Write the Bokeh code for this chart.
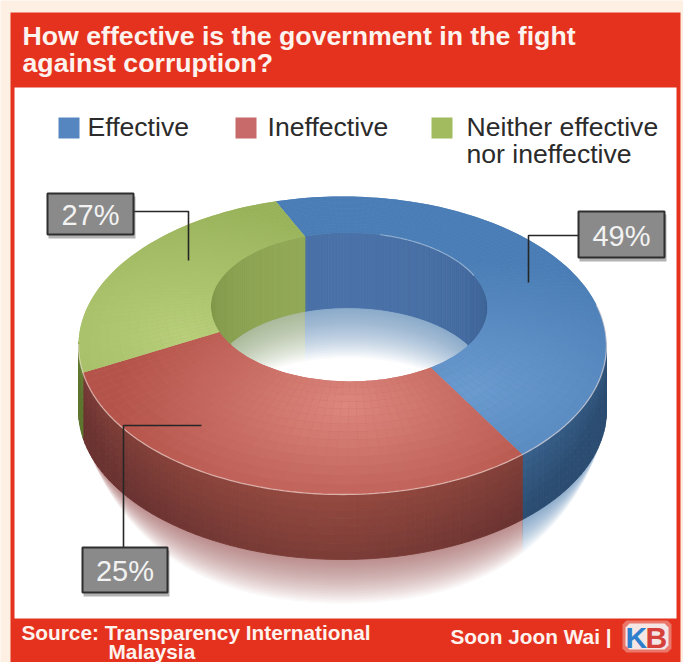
import numpy as np
from bokeh.plotting import figure
from bokeh.models import ColumnDataSource, Range1d
from bokeh.core.properties import value
from bokeh.embed import file_html
from bokeh.resources import INLINE

# Survey results
categories = ["Effective", "Ineffective", "Neither effective\nnor ineffective"]
shares = [49, 25, 27]
title_lines = ["How effective is the government in the fight", "against corruption?"]
source_lines = ["Source: Transparency International", "Malaysia"]
credit = "Soon Joon Wai |"

# Ring projection: a circular plan seen in perspective, mapped on the outer ellipse
CX, CY, RX, RY = 342.0, 345.0, 264.0, 149.0
TILT = (0.035, -0.356)
HOLE = 0.55
DEPTH_OUT, DEPTH_IN = 65.0, 75.0
START = -23.5

FONT = value("Liberation Sans")
SWATCH = ["#5686c0", "#c8696a", "#a2bb5e"]
TOP_LIGHT = ["#6b9bcf", "#dd877e", "#b9cf7b"]
TOP_DARK = ["#4a7db5", "#b4534a", "#98b25a"]
GLOW = [(470, 390), (345, 405), (185, 335)]
WALL_LIGHT = ["#41709f", "#93493f", "#7a9440"]
WALL_DARK = ["#2c4d72", "#6b3331", "#5d7530"]
INNER_LIGHT = ["#4a72a8", "#8a4540", "#93aa58"]
INNER_DARK = ["#3d6396", "#8a4540", "#7f9649"]
REFLECT = ["#4a7cb8", "#9c4843", "#7a9440"]
FLOOR = ["#5a80b8", "#8a4540", "#93a96a"]


def project(theta, r=1.0):
    """Screen position of plan point at clockwise angle theta (degrees) and radius r."""
    t = np.radians(np.asarray(theta, dtype=float))
    a, b = r * np.sin(t), -r * np.cos(t)
    wx, wy = TILT
    w2 = wx * wx + wy * wy
    g = 1.0 / np.sqrt(1.0 - w2)
    dot = a * wx + b * wy
    den = g * (1.0 + dot)
    k = (g - 1.0) * dot / w2 + g
    return CX + RX * (a + k * wx) / den, CY + RY * (b + k * wy) / den


def hex_rgb(c):
    return np.array([int(c[i:i + 2], 16) for i in (1, 3, 5)], dtype=float)


def mix(c0, c1, f):
    f = float(np.clip(f, 0, 1))
    v = hex_rgb(c0) * (1 - f) + hex_rgb(c1) * f
    return "#%02x%02x%02x" % tuple(int(round(x)) for x in v)


total = sum(shares)
spans = [s / total * 360.0 for s in shares]
edges = START + np.concatenate([[0.0], np.cumsum(spans)])


class Cells:
    """Collects flat polygons that are drawn in one patches call."""

    def __init__(self):
        self.xs, self.ys, self.color, self.alpha = [], [], [], []

    def add(self, xs, ys, color, alpha=1.0):
        self.xs.append(list(map(float, xs)))
        self.ys.append(list(map(float, ys)))
        self.color.append(color)
        self.alpha.append(alpha)

    def draw(self, fig, seam=1.2):
        src = ColumnDataSource(dict(xs=self.xs, ys=self.ys, c=self.color, a=self.alpha))
        if seam:
            fig.patches("xs", "ys", source=src, fill_color="c", fill_alpha="a",
                        line_color="c", line_width=seam, line_alpha="a")
        else:
            fig.patches("xs", "ys", source=src, fill_color="c", fill_alpha="a", line_alpha=0)


p = figure(width=683, height=662, output_backend="svg", toolbar_location=None,
           x_range=Range1d(0, 683), y_range=Range1d(662, 0), min_border=0,
           x_axis_type=None, y_axis_type=None, outline_line_color=None,
           background_fill_color="#fdf0e3", border_fill_color="#fdf0e3")
p.grid.visible = False

# Frame: red card, white panel
p.quad(left=[10], right=[680], top=[12], bottom=[662], fill_color="#e5321e", line_color=None)
p.quad(left=[14], right=[676], top=[87], bottom=[618], fill_color="#ffffff", line_color=None)

for i, line in enumerate(title_lines):
    p.text([22], [35 + 27 * i], text=[line], text_font=FONT, text_font_style="bold",
           text_font_size="26.7px", text_color="#fdf3ee", text_baseline="middle")

# Legend
for x, col in zip([58, 235, 431], SWATCH):
    p.quad(left=[x], right=[x + 21], top=[117], bottom=[138], fill_color=col, line_color=None)
for x, name in zip([87, 267, 466], categories):
    for j, part in enumerate(name.split("\n")):
        p.text([x], [126 + 27 * j], text=[part], text_font=FONT, text_font_size="26.6px",
               text_color="#2b2b2b", text_baseline="middle")

# Soft reflection on the surface below the outer wall, thinning towards the sides
reflect = Cells()
for i in range(3):
    th = np.linspace(edges[i], edges[i + 1], 120)
    x, y = project(th)
    keep = y >= CY - 2
    x, y = x[keep], y[keep]
    if len(x) < 2:
        continue
    taper = np.clip(1 - ((x - 345) / 255) ** 4, 0, 1)
    for t in np.arange(2, 46, 2):
        reflect.add(np.r_[x, x[::-1]], np.r_[y + DEPTH_OUT - 3, (y + DEPTH_OUT + t * taper)[::-1]],
                    REFLECT[i], 0.04)
reflect.draw(p, seam=0)

# Outer wall
wall = Cells()
for i in range(3):
    th = np.arange(edges[i], edges[i + 1] + 1.5, 1.5)
    th[-1] = min(th[-1], edges[i + 1])
    x, y = project(th)
    for j in range(len(th) - 1):
        if y[j] < CY - 3 and y[j + 1] < CY - 3:
            continue
        side = abs((x[j] - 330) / RX)
        for h in range(8):
            z0, z1 = DEPTH_OUT * h / 8, DEPTH_OUT * (h + 1) / 8
            shade = 0.75 * side ** 1.5 + 0.55 * h / 7
            wall.add([x[j], x[j + 1], x[j + 1], x[j]],
                     [y[j] + z0, y[j + 1] + z0, y[j + 1] + z1, y[j] + z1],
                     mix(WALL_LIGHT[i], WALL_DARK[i], shade))
wall.draw(p, seam=0.9)

# Far side of the hole: inner wall, then the colour it throws on the floor
inner = Cells()
floor = Cells()
for i in range(3):
    th = np.arange(edges[i], edges[i + 1] + 1.5, 1.5)
    th[-1] = min(th[-1], edges[i + 1])
    x, y = project(th, HOLE)
    keep = y < 346
    x, y = x[keep], y[keep]
    if len(x) < 2:
        continue
    for j in range(len(x) - 1):
        inner.add([x[j], x[j + 1], x[j + 1], x[j]],
                  [y[j], y[j + 1], y[j + 1] + DEPTH_IN, y[j] + DEPTH_IN],
                  mix(INNER_LIGHT[i], INNER_DARK[i], (y[j] - 232) / 70))
    for t in np.arange(2, 52, 2):
        floor.add(np.r_[x, x[::-1]], np.r_[y + DEPTH_IN - 1, (y + DEPTH_IN + t)[::-1]],
                  FLOOR[i], 0.042)
floor.draw(p, seam=0)
inner.draw(p, seam=0.9)

# Top face of the ring, shaded around a highlight in each slice.
# A flat sector goes underneath so that no cell edge lets the wall show through.
face = Cells()
under = Cells()
radii = np.linspace(HOLE, 1.0, 15)
for i in range(3):
    th = np.arange(edges[i], edges[i + 1] + 2.0, 2.0)
    th[-1] = min(th[-1], edges[i + 1])
    ox, oy = project(th)
    ix, iy = project(th, HOLE)
    under.add(np.r_[ox, ix[::-1]], np.r_[oy, iy[::-1]], mix(TOP_LIGHT[i], TOP_DARK[i], 0.5))
    for j in range(len(th) - 1):
        for k in range(len(radii) - 1):
            x0, y0 = project(th[j], radii[k])
            x1, y1 = project(th[j + 1], radii[k])
            x2, y2 = project(th[j + 1], radii[k + 1])
            x3, y3 = project(th[j], radii[k + 1])
            mx, my = (x0 + x2) / 2, (y0 + y2) / 2
            d = np.hypot((mx - GLOW[i][0]) / 230, (my - GLOW[i][1]) / 130)
            face.add([x0, x1, x2, x3], [y0, y1, y2, y3],
                     mix(TOP_LIGHT[i], TOP_DARK[i], d))
under.draw(p, seam=0)
face.draw(p, seam=0)

# Pale highlights on the rims
th = np.linspace(95, 250, 160)
x, y = project(th)
p.line(x, y, line_color="#f6e4e0", line_alpha=0.6, line_width=1.3)
th = np.linspace(15, 75, 60)
x, y = project(th, HOLE)
p.line(x, y, line_color="#dfe8f3", line_alpha=0.45, line_width=1.2)

# Value callouts
boxes = [(578, 211, 86, 46), (82, 547, 85, 45), (47, 193, 86, 41)]
leaders = [([578, 528, 528], [235, 235, 282]),
           ([123, 123, 201], [547, 425, 425]),
           ([133, 188, 188], [211, 211, 260])]
for (bx, by, bw, bh), (lx, ly), share in zip(boxes, leaders, shares):
    p.line(lx, ly, line_color="#262626", line_width=1.6)
    p.quad(left=[bx + 1], right=[bx + bw + 2], top=[by + 3], bottom=[by + bh + 4],
           fill_color="#555555", fill_alpha=0.45, line_color=None)
    p.quad(left=[bx], right=[bx + bw], top=[by], bottom=[by + bh],
           fill_color="#8a8a8a", line_color="#2e2e2e", line_width=2)
    p.text([bx + bw / 2], [by + bh / 2 + 1], text=[f"{share}%"], text_font=FONT,
           text_font_size="29px", text_color="#f2f2f2", text_align="center",
           text_baseline="middle")

# Footer
p.text([21], [632], text=[source_lines[0]], text_font=FONT, text_font_style="bold",
       text_font_size="20.8px", text_color="#fdf3ee", text_baseline="middle")
p.text([108], [651], text=[source_lines[1]], text_font=FONT, text_font_style="bold",
       text_font_size="20.8px", text_color="#fdf3ee", text_baseline="middle")
p.text([450], [636], text=[credit], text_font=FONT, text_font_style="bold",
       text_font_size="20.8px", text_color="#fdf3ee", text_baseline="middle")

# Publisher mark: white halo behind the two letters
for grow, alpha in [(3, 0.35), (0, 0.85)]:
    lx0, lx1, ly0, ly1 = 625 - grow, 668 + grow, 623 - grow, 649 + grow
    p.patches([[lx0 + 4, lx1 - 4, lx1, lx1, lx1 - 4, lx0 + 4, lx0, lx0]],
              [[ly0, ly0, ly0 + 4, ly1 - 4, ly1, ly1, ly1 - 4, ly0 + 4]],
              fill_color="#f7f9fb", fill_alpha=alpha, line_color=None)
p.text([625], [637], text=["K"], text_font=FONT, text_font_style="bold", text_font_size="30px",
       text_color="#2f7fcc", text_baseline="middle")
p.text([645], [637], text=["B"], text_font=FONT, text_font_style="bold", text_font_size="30px",
       text_color="#d6403a", text_baseline="middle")

open("out.html", "w").write(file_html(p, INLINE))
